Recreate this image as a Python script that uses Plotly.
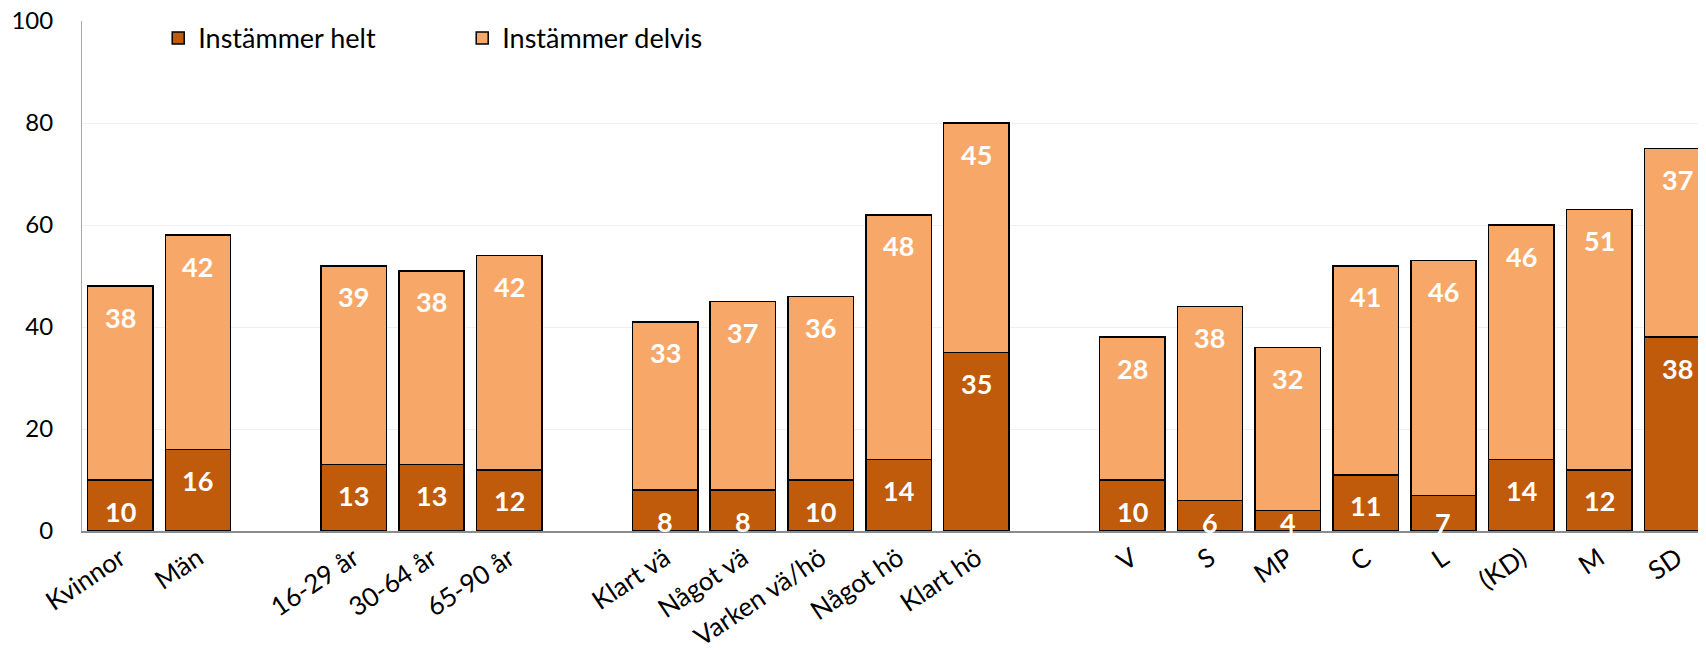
import plotly.graph_objects as go

categories = ["Kvinnor", "Män", " ", "16-29 år", "30-64 år", "65-90 år", "  ",
              "Klart vä", "Något vä", "Varken vä/hö", "Något hö", "Klart hö", "   ",
              "V", "S", "MP", "C", "L", "(KD)", "M", "SD"]
helt = [10, 16, None, 13, 13, 12, None, 8, 8, 10, 14, 35, None,
        10, 6, 4, 11, 7, 14, 12, 38]
delvis = [38, 42, None, 39, 38, 42, None, 33, 37, 36, 48, 45, None,
          28, 38, 32, 41, 46, 46, 51, 37]
series_names = ["Instämmer helt", "Instämmer delvis"]
colors = ["#BF5B0A", "#F7A868"]
y_ticks = [0, 20, 40, 60, 80, 100]

FONT = "Lato"

fig = go.Figure()
fig.add_trace(go.Bar(x=categories, y=helt, name=series_names[0],
                     marker=dict(color=colors[0], line=dict(color="black", width=1.5))))
fig.add_trace(go.Bar(x=categories, y=delvis, name=series_names[1],
                     marker=dict(color=colors[1], line=dict(color="black", width=1.5))))

# data labels near inside end of each segment
px_per_unit = (523 - 13) / 100.0
annotations = []
for c, h, d in zip(categories, helt, delvis):
    if h is None:
        continue
    for top, val in ((h, h), (h + d, d)):
        shift = min(31, px_per_unit * val - 9)
        annotations.append(dict(x=c, y=top, xref="x", yref="y", text=f"<b>{val}</b>",
                                showarrow=False, yshift=-shift, yanchor="middle",
                                font=dict(family=FONT, size=27, color="white")))

fig.update_layout(
    barmode="stack",
    bargap=0.16,
    width=1706, height=653,
    margin=dict(l=74, r=0, t=13, b=130, autoexpand=False),
    plot_bgcolor="white", paper_bgcolor="white",
    font=dict(family=FONT, size=24, color="black"),
    annotations=annotations,
    showlegend=True,
    legend=dict(orientation="h", x=0.0467, y=0.966, xanchor="left", yanchor="middle",
                entrywidth=259, entrywidthmode="pixels",
                font=dict(family=FONT, size=27, color="black"),
                bgcolor="rgba(0,0,0,0)", traceorder="normal"),
)
fig.update_xaxes(categoryorder="array", categoryarray=categories,
                 range=[-0.49, 20.475], tickangle=-34,
                 showline=True, linecolor="#8C8C8C", linewidth=2,
                 tickfont=dict(family=FONT, size=26), ticks="",
                 ticklabelstandoff=0)
fig.update_yaxes(range=[0, 100], tickvals=y_ticks, showgrid=True, gridcolor="#F0F0F0",
                 gridwidth=1, showline=True, linecolor="#A6A6A6", linewidth=1,
                 zeroline=False, tickfont=dict(family=FONT, size=24),
                 ticklabelstandoff=23, ticklabeloverflow="allow")

fig.write_html("out.html")
